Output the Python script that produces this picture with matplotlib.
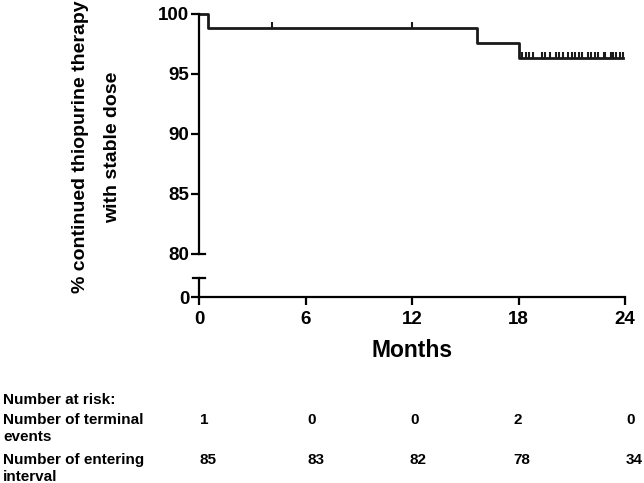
import numpy as np
import matplotlib
matplotlib.use("Agg")
import matplotlib.pyplot as plt
from matplotlib.lines import Line2D

plt.rcParams['font.family'] = ['Liberation Sans', 'DejaVu Sans']
plt.rcParams['font.weight'] = 'bold'

# Kaplan-Meier steps
step_times = [0, 0.5, 15.65, 18.0]
step_surv = [100, 98.82, 97.62, 96.37]
end_time = 23.9

# censored observations (tick marks on the curve)
censor_times = [4.1, 12.0, 18.2, 18.4, 18.6, 18.8, 19.3, 19.5, 19.8, 20.1, 20.3,
                20.5, 20.8, 21.0, 21.2, 21.4, 21.6, 21.9, 22.1, 22.3, 22.5, 22.8,
                22.9, 23.2, 23.3, 23.5, 23.7, 23.9]

x_ticks = [0, 6, 12, 18, 24]
y_ticks = [80, 85, 90, 95, 100]

# risk table
terminal_events = ['1', '0', '0', '2', '0']
entering = ['85', '83', '82', '78', '34']

W, H = 644, 483
fig = plt.figure(figsize=(W / 100, H / 100), dpi=100)

def fx(px):
    return px / W

def fy(py):
    return 1 - py / H

lw = 1.6
left_px, right_px = 199, 625

# upper part of the broken axis
ax = fig.add_axes([fx(left_px), fy(254), fx(right_px - left_px), (254 - 14) / H])
ax.set_xlim(0, 24)
ax.set_ylim(80, 100)
for sp in ['top', 'right', 'bottom']:
    ax.spines[sp].set_visible(False)
ax.spines['left'].set_linewidth(lw)
ax.set_xticks([])
ax.set_yticks(y_ticks)
ax.tick_params(axis='y', length=6, width=lw, labelsize=13.5, pad=1)

xs = step_times + [end_time]
ys = step_surv + [step_surv[-1]]
ax.step(xs, ys, where='post', color='#1a1a1a', lw=2, clip_on=False)

cens_y = []
for t in censor_times:
    idx = np.searchsorted(step_times, t, side='right') - 1
    cens_y.append(step_surv[idx])
ax.plot(censor_times, cens_y, linestyle='none', marker=2, markersize=4,
        mew=1.5, color='#1a1a1a', clip_on=False)

# lower part of the broken axis
ax2 = fig.add_axes([fx(left_px), fy(297), fx(right_px - left_px), 19 / H])
ax2.set_xlim(0, 24)
ax2.set_ylim(0, 1.6)
for sp in ['top', 'right']:
    ax2.spines[sp].set_visible(False)
ax2.spines['left'].set_linewidth(lw)
ax2.spines['bottom'].set_linewidth(lw)
ax2.set_yticks([0])
ax2.set_xticks(x_ticks)
ax2.tick_params(axis='y', length=6, width=lw, labelsize=13.5, pad=1)
ax2.tick_params(axis='x', length=6, width=lw, labelsize=13.5, pad=4)
ax2.set_xlabel('Months', fontsize=16.5, fontweight='bold', labelpad=8)

# break caps
fig.add_artist(Line2D([fx(left_px), fx(left_px + 6)], [fy(254), fy(254)],
                      transform=fig.transFigure, color='black', lw=lw))
fig.add_artist(Line2D([fx(left_px - 6), fx(left_px + 6)], [fy(278), fy(278)],
                      transform=fig.transFigure, color='black', lw=lw))

# y label
fig.text(fx(81), fy(147), '% continued thiopurine therapy', rotation=90,
         ha='center', va='center', fontsize=14, fontweight='bold')
fig.text(fx(113), fy(147), 'with stable dose', rotation=90,
         ha='center', va='center', fontsize=14, fontweight='bold')

# risk table
tfs = 11
fig.text(fx(3), fy(400), 'Number at risk:', ha='left', va='center', fontsize=tfs)
fig.text(fx(3), fy(420), 'Number of terminal', ha='left', va='center', fontsize=tfs)
fig.text(fx(3), fy(437), 'events', ha='left', va='center', fontsize=tfs)
fig.text(fx(3), fy(460), 'Number of entering', ha='left', va='center', fontsize=tfs)
fig.text(fx(3), fy(477), 'interval', ha='left', va='center', fontsize=tfs)

col_px = [200, 307, 410, 513, 626]
for i, cx in enumerate(col_px):
    fig.text(fx(cx), fy(420), terminal_events[i], ha='left', va='center', fontsize=tfs)
    fig.text(fx(cx), fy(460), entering[i], ha='left', va='center', fontsize=tfs)

fig.savefig('out.png', dpi=100)
